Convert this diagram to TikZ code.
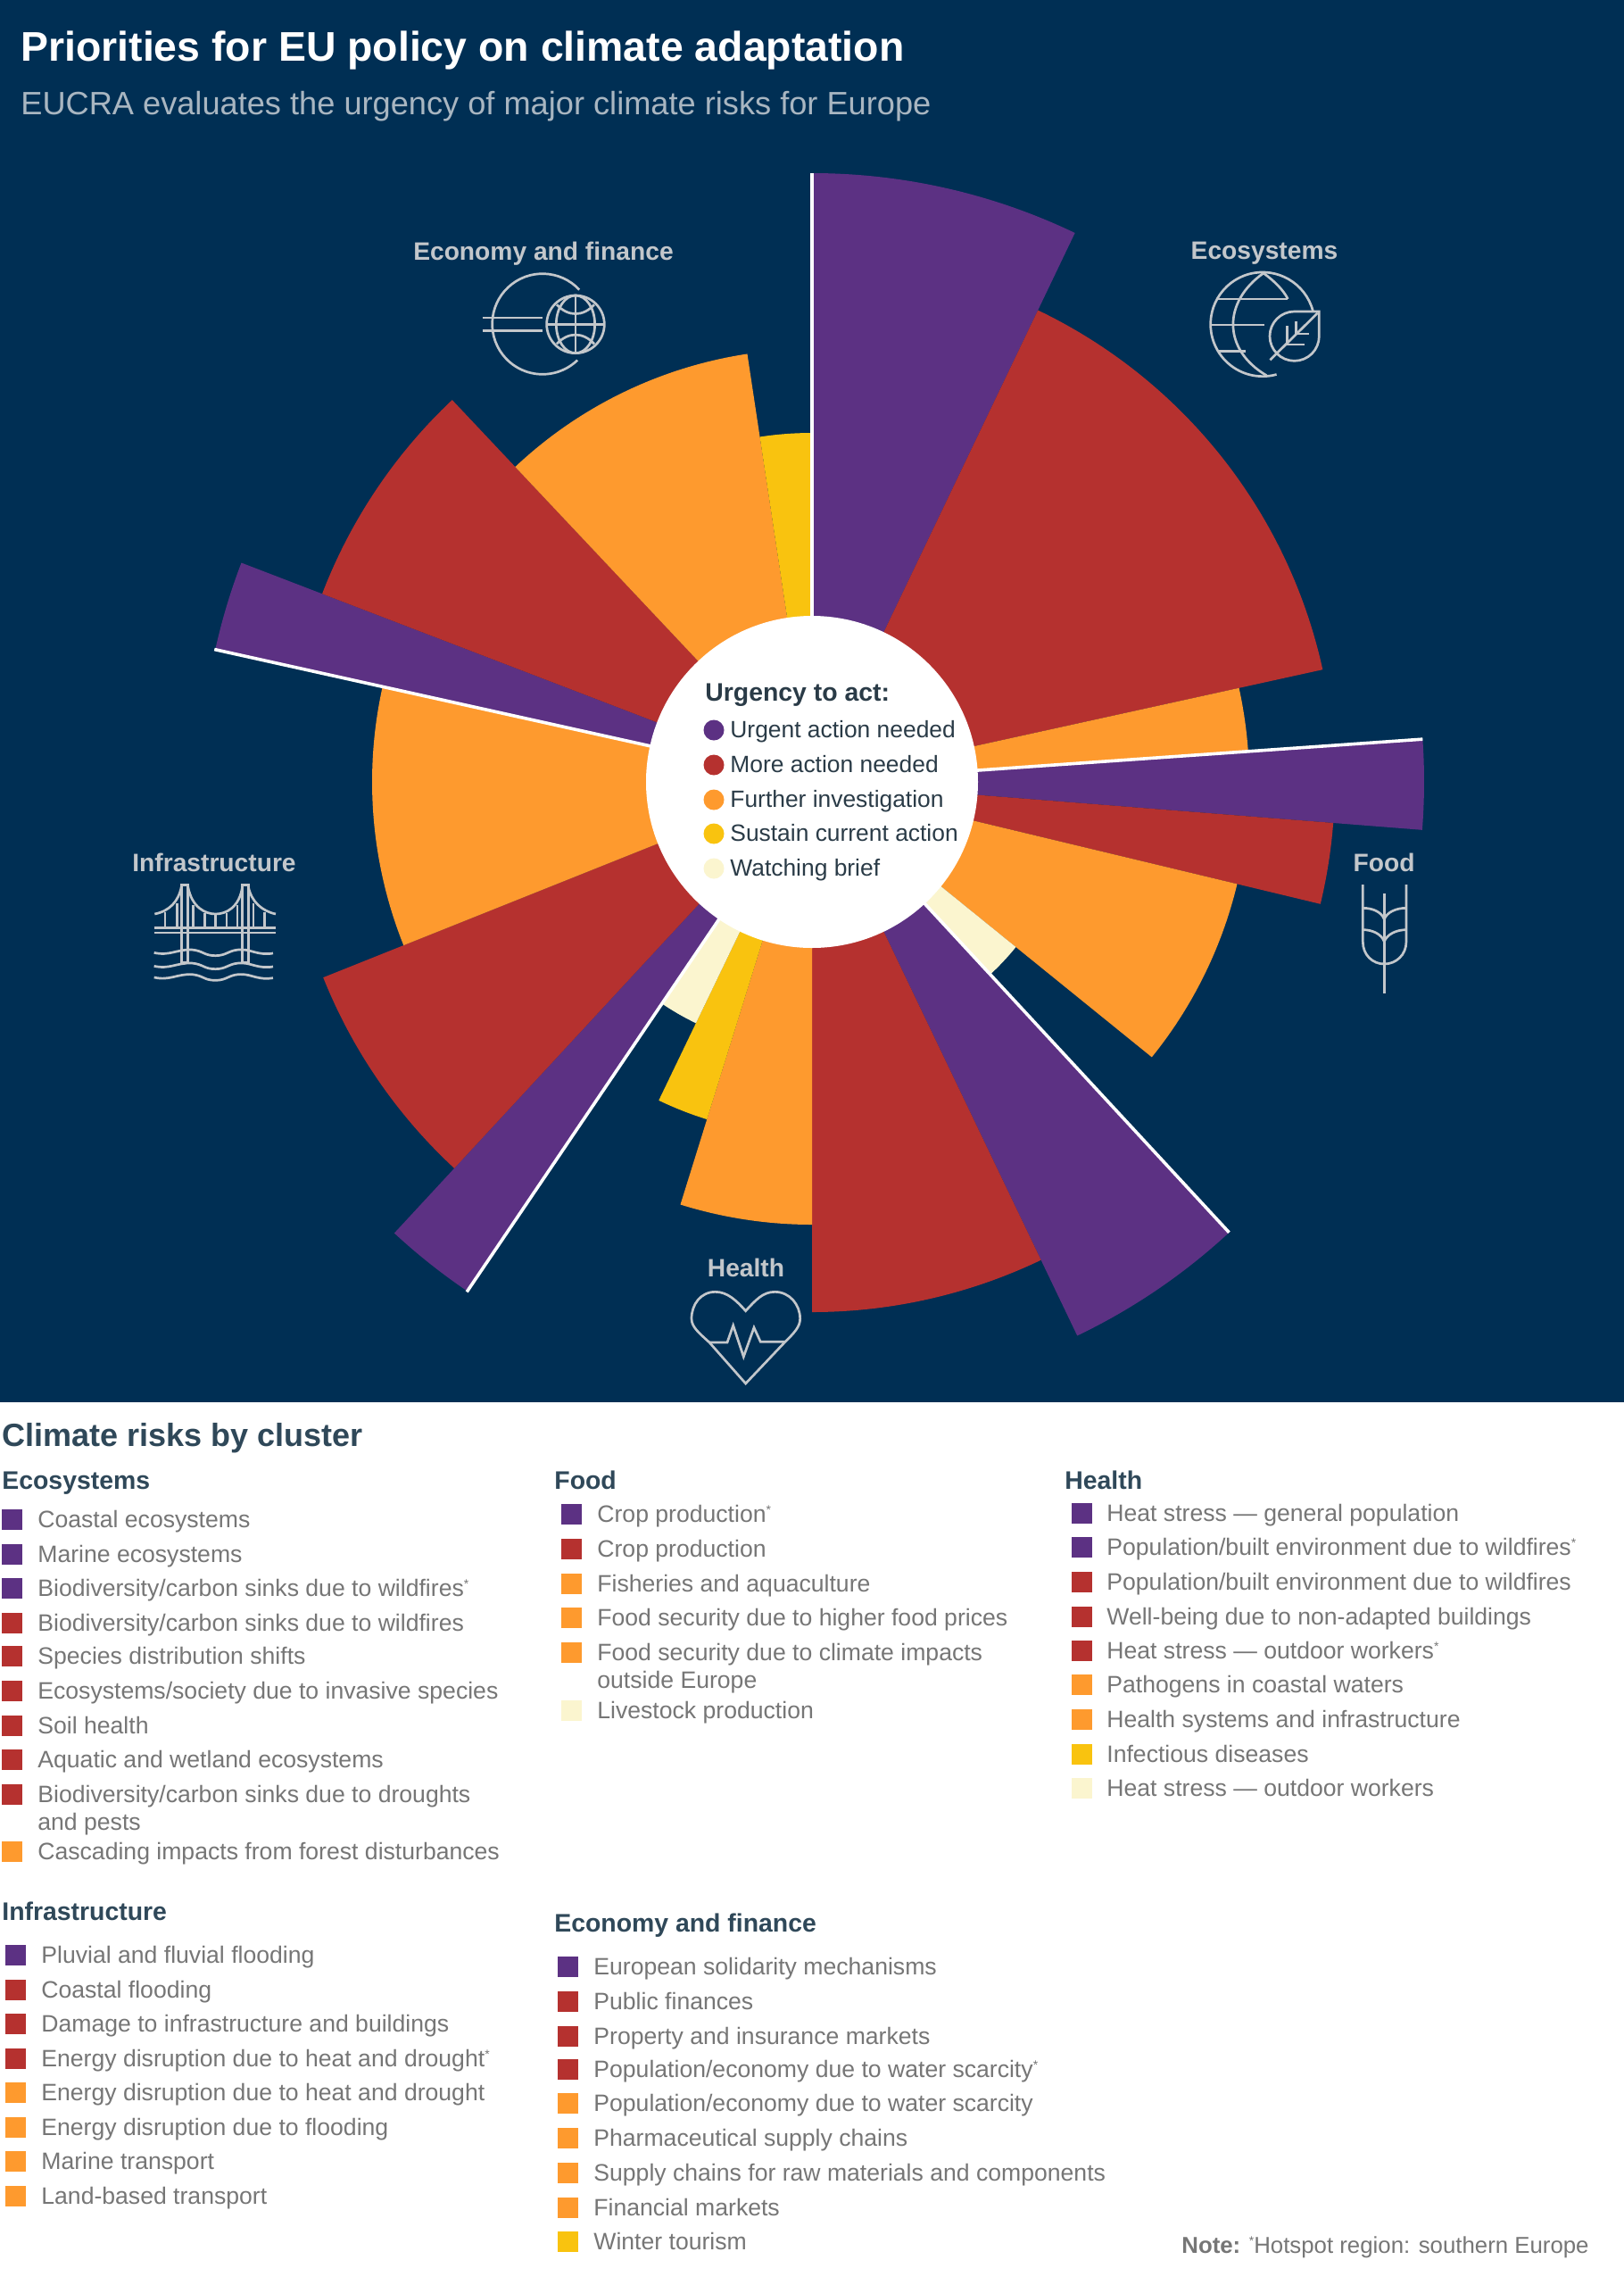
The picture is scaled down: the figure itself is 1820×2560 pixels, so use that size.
\documentclass[tikz,border=0pt]{standalone}
\usepackage{fontspec}
\setmainfont{Liberation Sans}
\definecolor{night_blue}{HTML}{002F54}
\definecolor{urgent_purple}{HTML}{5C3183}
\definecolor{more_red}{HTML}{B5312F}
\definecolor{further_orange}{HTML}{FE9A2E}
\definecolor{sustain_yellow}{HTML}{F9C30F}
\definecolor{watch_cream}{HTML}{FBF5CF}
\definecolor{icon_gray}{HTML}{C3C7CB}
\definecolor{sub_gray}{HTML}{A9B6C1}
\definecolor{head_slate}{HTML}{2F4859}
\definecolor{key_slate}{HTML}{2A3B47}
\definecolor{item_gray}{HTML}{767676}
\newcommand{\petal}[4]{\fill[#1] (910,876) -- ++(#2:#4) arc[start angle=#2,end angle=#3,radius=#4] -- cycle;}
\newcommand{\hotmark}{\raisebox{0.6ex}{\fontsize{7}{8}\selectfont *}}
\begin{document}
\begin{tikzpicture}[x=0.5pt,y=0.5pt,yscale=-1]
        \tikzstyle{title_style} = [anchor=base west,inner sep=0pt,text=white,font=\fontsize{23.2}{28}\selectfont\bfseries]
        \tikzstyle{sub_style} = [anchor=base west,inner sep=0pt,text=sub_gray,font=\fontsize{18.1}{24}\selectfont]
        \tikzstyle{cluster_style} = [inner sep=0pt,text=icon_gray,font=\fontsize{14.1}{18}\selectfont\bfseries]
        \tikzstyle{icon_line} = [draw=icon_gray,line width=1.35pt]
        \tikzstyle{white_line} = [draw=white,line width=1.8pt]
        \tikzstyle{key_dot} = [circle,inner sep=0pt,minimum size=11.5pt]
        \tikzstyle{key_text} = [anchor=base west,inner sep=0pt,text=key_slate,font=\fontsize{13.2}{16}\selectfont]
        \tikzstyle{head_style} = [anchor=base west,inner sep=0pt,text=head_slate,font=\fontsize{14.2}{18}\selectfont\bfseries]
        \tikzstyle{risk_square} = [rectangle,inner sep=0pt,minimum size=11.5pt]
        \tikzstyle{risk_text} = [anchor=base west,inner sep=0pt,text=item_gray,font=\fontsize{13.3}{16}\selectfont]
        \useasboundingbox (0,0) rectangle (1820,2560);
        \fill[white] (0,0) rectangle (1820,2560);
        \fill[night_blue] (0,0) rectangle (1820,1571);
        \node[title_style] (main_title) at (23,68) {Priorities for EU policy on climate adaptation};
        \node[sub_style] (main_sub) at (23,128) {EUCRA evaluates the urgency of major climate risks for Europe};
        % sectors, clockwise from the top
        \petal{urgent_purple}{-90}{-64.4}{682}
        \petal{more_red}{-64.4}{-12.4}{586}
        \petal{further_orange}{-12.4}{-4}{490}
        \petal{urgent_purple}{-4}{4.5}{686}
        \petal{more_red}{4.5}{13.5}{586}
        \petal{further_orange}{13.5}{39}{490}
        \petal{watch_cream}{39}{47.2}{294}
        \petal{urgent_purple}{47.2}{64.4}{688}
        \petal{more_red}{64.4}{90}{594}
        \petal{further_orange}{90}{107.3}{496}
        \petal{sustain_yellow}{107.3}{115.7}{396}
        \petal{watch_cream}{115.7}{123.9}{300}
        \petal{urgent_purple}{124.1}{132.8}{689}
        \petal{more_red}{132.8}{158.2}{590}
        \petal{further_orange}{158.2}{192.5}{493}
        \petal{urgent_purple}{192.5}{201}{685}
        \petal{more_red}{201}{226.7}{588}
        \petal{further_orange}{226.7}{261.4}{485}
        \petal{sustain_yellow}{261.4}{270}{391}
        \draw[white_line] (910,876) -- ++(-90:682);
        \draw[white_line] (910,876) -- ++(-4:686);
        \draw[white_line] (910,876) -- ++(47.2:688);
        \draw[white_line] (910,876) -- ++(124.1:690);
        \draw[white_line] (910,876) -- ++(192.5:686);
        \node[circle,fill=white,inner sep=0pt,minimum size=186pt] (hub) at (910,876) {};
        \node[anchor=base west,inner sep=0pt,text=key_slate,font=\fontsize{14.2}{18}\selectfont\bfseries] (hub_title) at (790,785) {Urgency to act:};
        \foreach \ypos/\dotcolor/\keytext [count=\i] in {818/urgent_purple/Urgent action needed,857/more_red/More action needed,896/further_orange/Further investigation,934/sustain_yellow/Sustain current action,973/watch_cream/Watching brief}
        {
                \node[key_dot,fill=\dotcolor] (key_dot\i) at (800,\ypos) {};
                \node[key_text] (key_text\i) at (818,\ypos+8) {\keytext};
        }
        \node[cluster_style] (label_econ) at (609,284) {Economy and finance};
        \node[cluster_style] (label_eco) at (1417,284) {Ecosystems};
        \node[cluster_style] (label_infra) at (240,966) {Infrastructure};
        \node[cluster_style] (label_food) at (1551,966) {Food};
        \node[cluster_style] (label_health) at (836,1420) {Health};
        % economy icon
        \begin{scope}[shift={(440,260)},scale=0.3333]
                \draw[icon_line] (504,309) ++(-43:169) arc[start angle=-43,end angle=-314,radius=169];
                \draw[icon_line] (302,288) -- (505,288) (302,332) -- (505,332);
                \draw[icon_line] (615,310) circle[radius=97];
                \draw[icon_line] (615,310) ellipse[x radius=65,y radius=97];
                \draw[icon_line] (615,213) -- (615,407) (518,310) -- (712,310);
                \draw[icon_line] (552,244) .. controls (590,285) and (640,285) .. (678,244);
                \draw[icon_line] (552,376) .. controls (590,335) and (640,335) .. (678,376);
        \end{scope}
        % ecosystems icon
        \begin{scope}[shift={(1310,260)},scale=0.3333]
                \draw[icon_line] (315,310) ++(-15:175) arc[start angle=-15,end angle=-285.5,radius=175];
                \draw[icon_line] (318,138) .. controls (180,235) and (180,395) .. (328,482);
                \draw[icon_line] (318,138) .. controls (355,165) and (385,195) .. (400,225);
                \draw[icon_line] (165,225) -- (400,225) (142,312) -- (320,312) (165,400) -- (258,400);
                \draw[icon_line] (505,267) -- (505,350) arc[start angle=0,end angle=270,radius=83] -- cycle;
                \draw[icon_line] (340,430) -- (500,272);
                \draw[icon_line] (398,315) -- (398,378) -- (455,378) (428,300) -- (428,342) -- (472,342);
        \end{scope}
        % bridge icon
        \begin{scope}[shift={(140,950)},scale=0.3333]
                \draw[icon_line] (190,385) -- (190,125) -- (212,125) -- (212,385) -- cycle;
                \draw[icon_line] (395,385) -- (395,125) -- (415,125) -- (415,385) -- cycle;
                \draw[icon_line] (98,268) -- (508,268) (98,285) -- (508,285);
                \draw[icon_line] (100,222) .. controls (150,212) and (180,180) .. (190,130);
                \draw[icon_line] (212,130) .. controls (225,200) and (270,222) .. (305,222) .. controls (340,222) and (385,200) .. (395,130);
                \draw[icon_line] (415,130) .. controls (425,180) and (460,212) .. (507,222);
                \foreach \hx/\hy in {135/216,175/185,230/193,268/218,305/222,342/218,378/193,432/185,470/216}
                {
                        \draw[icon_line] (\hx,\hy) -- (\hx,268);
                }
                \foreach \wy in {352,397,435}
                {
                        \draw[icon_line,shift={(0,\wy)}] (98,0) .. controls (150,12) and (175,-12) .. (225,-10) .. controls (265,-6) and (265,10) .. (305,10) .. controls (345,10) and (350,-12) .. (395,-10) .. controls (425,-10) and (450,10) .. (498,2);
                }
        \end{scope}
        % wheat icon
        \begin{scope}[shift={(1480,940)},scale=0.3333]
                \draw[icon_line] (214,183) -- (214,520);
                \draw[icon_line] (142,153) -- (142,345) .. controls (142,390) and (175,420) .. (214,420) .. controls (253,420) and (288,390) .. (288,345) -- (288,153);
                \draw[icon_line] (142,232) .. controls (175,232) and (205,245) .. (214,270) .. controls (223,245) and (255,232) .. (288,232);
                \draw[icon_line] (142,305) .. controls (175,305) and (205,320) .. (214,345) .. controls (223,320) and (255,305) .. (288,305);
        \end{scope}
        % heart icon
        \begin{scope}[shift={(740,1390)},scale=0.3333]
                \draw[icon_line] (287,236) .. controls (255,200) and (225,172) .. (185,172) .. controls (135,172) and (105,215) .. (105,262) .. controls (105,290) and (130,310) .. (165,342) -- (287,480) -- (415,345) .. controls (450,310) and (470,290) .. (470,262) .. controls (470,215) and (435,172) .. (385,172) .. controls (345,172) and (320,200) .. (287,236) -- cycle;
                \draw[icon_line] (165,342) -- (225,342) -- (245,285) -- (280,390) -- (315,292) -- (337,340) -- (420,340);
        \end{scope}
        % legend below the chart
        \node[anchor=base west,inner sep=0pt,text=head_slate,font=\fontsize{18}{22}\selectfont\bfseries] (legend_title) at (2,1620) {Climate risks by cluster};
        \node[head_style] (head_eco) at (2,1668) {Ecosystems};
        \foreach \ypos/\boxcolor/\risktext [count=\i] in {1702/urgent_purple/Coastal ecosystems,1741/urgent_purple/Marine ecosystems,1779/urgent_purple/{Biodiversity/carbon sinks due to wildfires\hotmark},1818/more_red/{Biodiversity/carbon sinks due to wildfires},1855/more_red/Species distribution shifts,1894/more_red/{Ecosystems/society due to invasive species},1933/more_red/Soil health,1971/more_red/Aquatic and wetland ecosystems,2010/more_red/{Biodiversity/carbon sinks due to droughts},2074/further_orange/Cascading impacts from forest disturbances}
        {
                \node[risk_square,fill=\boxcolor] (eco_box\i) at (13.5,\ypos) {};
                \node[risk_text] (eco_text\i) at (42,\ypos+9) {\risktext};
        }
        \node[risk_text] (eco_more) at (42,2050) {and pests};
        \node[head_style] (head_infra) at (2,2151) {Infrastructure};
        \foreach \ypos/\boxcolor/\risktext [count=\i] in {2190/urgent_purple/Pluvial and fluvial flooding,2229/more_red/Coastal flooding,2267/more_red/Damage to infrastructure and buildings,2306/more_red/Energy disruption due to heat and drought\hotmark,2344/further_orange/Energy disruption due to heat and drought,2383/further_orange/Energy disruption due to flooding,2421/further_orange/Marine transport,2460/further_orange/Land-based transport}
        {
                \node[risk_square,fill=\boxcolor] (infra_box\i) at (17.5,\ypos) {};
                \node[risk_text] (infra_text\i) at (46,\ypos+9) {\risktext};
        }
        \node[head_style] (head_food) at (621,1668) {Food};
        \foreach \ypos/\boxcolor/\risktext [count=\i] in {1696/urgent_purple/Crop production\hotmark,1735/more_red/Crop production,1774/further_orange/Fisheries and aquaculture,1812/further_orange/Food security due to higher food prices,1851/further_orange/Food security due to climate impacts,1916/watch_cream/Livestock production}
        {
                \node[risk_square,fill=\boxcolor] (food_box\i) at (640.5,\ypos) {};
                \node[risk_text] (food_text\i) at (669,\ypos+9) {\risktext};
        }
        \node[risk_text] (food_more) at (669,1891) {outside Europe};
        \node[head_style] (head_econ) at (621,2164) {Economy and finance};
        \foreach \ypos/\boxcolor/\risktext [count=\i] in {2203/urgent_purple/European solidarity mechanisms,2242/more_red/Public finances,2281/more_red/Property and insurance markets,2318/more_red/{Population/economy due to water scarcity\hotmark},2356/further_orange/{Population/economy due to water scarcity},2395/further_orange/Pharmaceutical supply chains,2434/further_orange/Supply chains for raw materials and components,2473/further_orange/Financial markets,2511/sustain_yellow/Winter tourism}
        {
                \node[risk_square,fill=\boxcolor] (econ_box\i) at (636.5,\ypos) {};
                \node[risk_text] (econ_text\i) at (665,\ypos+9) {\risktext};
        }
        \node[head_style] (head_health) at (1193,1668) {Health};
        \foreach \ypos/\boxcolor/\risktext [count=\i] in {1695/urgent_purple/Heat stress — general population,1733/urgent_purple/{Population/built environment due to wildfires\hotmark},1772/more_red/{Population/built environment due to wildfires},1811/more_red/Well-being due to non-adapted buildings,1849/more_red/Heat stress — outdoor workers\hotmark,1887/further_orange/Pathogens in coastal waters,1926/further_orange/Health systems and infrastructure,1965/sustain_yellow/Infectious diseases,2003/watch_cream/Heat stress — outdoor workers}
        {
                \node[risk_square,fill=\boxcolor] (health_box\i) at (1212.5,\ypos) {};
                \node[risk_text] (health_text\i) at (1240,\ypos+9) {\risktext};
        }
        \node[anchor=base west,inner sep=0pt,text=item_gray,font=\fontsize{12.9}{16}\selectfont] (note_text) at (1324,2524) {\textbf{Note:} \hotmark Hotspot region: southern Europe};
\end{tikzpicture}
\end{document}
